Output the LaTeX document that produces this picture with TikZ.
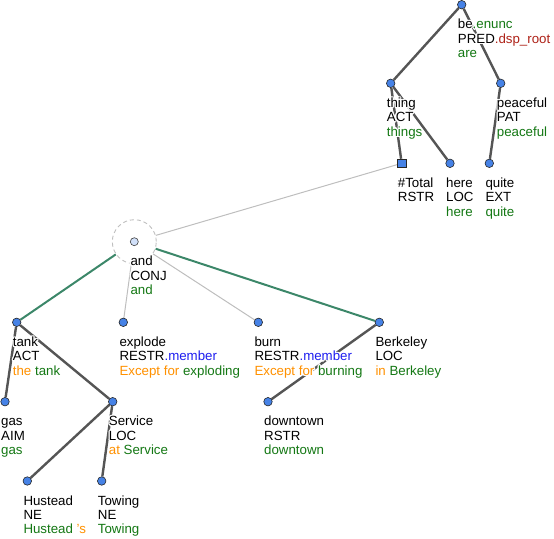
\documentclass[tikz,border=0pt]{standalone}
\usepackage{fontspec}
\setmainfont{Liberation Sans}
\usetikzlibrary{backgrounds}
\definecolor{tgreen}{RGB}{20,120,20}
\definecolor{torange}{RGB}{255,145,0}
\definecolor{tblue}{RGB}{30,30,240}
\definecolor{tred}{RGB}{175,35,25}
\definecolor{nodeblue}{RGB}{70,130,230}
\definecolor{edgegray}{RGB}{85,85,85}
\definecolor{edgegreen}{RGB}{60,135,105}
\definecolor{faintgray}{RGB}{190,190,190}
\newif\ifhalo
\newcommand{\cgreen}[1]{\ifhalo#1\else\textcolor{tgreen}{#1}\fi}
\newcommand{\corange}[1]{\ifhalo#1\else\textcolor{torange}{#1}\fi}
\newcommand{\cblue}[1]{\ifhalo#1\else\textcolor{tblue}{#1}\fi}
\newcommand{\cred}[1]{\ifhalo#1\else\textcolor{tred}{#1}\fi}
\newcommand{\mklabel}[3]{%
  \foreach \hx/\hy in {1.3/0,-1.3/0,0/1.3,0/-1.3,0.9/0.9,-0.9/0.9,0.9/-0.9,-0.9/-0.9}{%
    \node[lbl,text=white,shift={(\hx,\hy)}] at (#2) {\halotrue\begin{tabular}[t]{@{}l@{}}#3\end{tabular}};}
  \node[lbl] (#1) at (#2) {\begin{tabular}[t]{@{}l@{}}#3\end{tabular}};}
\tikzset{
  dot/.style={circle, fill=nodeblue, draw=black!85, line width=0.6pt, inner sep=0pt, minimum size=8.5pt},
  sqnode/.style={rectangle, fill=nodeblue, draw=black!85, line width=0.6pt, inner sep=0pt, minimum size=8.5pt},
  anddot/.style={circle, fill=nodeblue!25, draw=black!75, line width=0.6pt, inner sep=0pt, minimum size=8pt},
  ring/.style={circle, draw=black!25, dashed, dash pattern=on 4pt off 3pt, line width=0.9pt, inner sep=0pt, minimum size=44pt},
  lbl/.style={anchor=base west, inner sep=0pt, font=\fontsize{13.3}{14.4}\selectfont},
  treeedge/.style={draw=edgegray, line width=2.4pt},
  coordedge/.style={draw=edgegreen, line width=2pt},
  faintedge/.style={draw=faintgray, line width=1pt},
}
\begin{document}
\begin{tikzpicture}[x=1pt,y=-1pt]
\useasboundingbox (0,0) rectangle (554,538);
% nodes
\node[dot] (be) at (461.7,4.7) {};
\node[dot] (thing) at (390.7,83.3) {};
\node[dot] (peaceful) at (500.7,83.3) {};
\node[sqnode] (total) at (401.7,163.3) {};
\node[dot] (here) at (450,163.3) {};
\node[dot] (quite) at (489.3,163.3) {};
\node[ring] (andring) at (134.3,241.7) {};
\node[anddot] (and) at (134.3,241.7) {};
\node[dot] (tank) at (16.7,322.3) {};
\node[dot] (explode) at (123.3,322.3) {};
\node[dot] (burn) at (258.3,322.3) {};
\node[dot] (berkeley) at (379.3,322.3) {};
\node[dot] (gas) at (5,401.7) {};
\node[dot] (service) at (112.7,401.7) {};
\node[dot] (downtown) at (268,401.7) {};
\node[dot] (hustead) at (27.3,481) {};
\node[dot] (towing) at (101.7,481) {};
% edges
\begin{pgfonlayer}{background}
\draw[treeedge] (be) -- (thing);
\draw[treeedge] (be) -- (peaceful);
\draw[treeedge] (thing) -- (total);
\draw[treeedge] (thing) -- (here);
\draw[treeedge] (peaceful) -- (quite);
\draw[faintedge] (andring) -- (total);
\draw[faintedge] (andring) -- (explode);
\draw[faintedge] (andring) -- (burn);
\draw[coordedge] (andring) -- (tank);
\draw[coordedge] (andring) -- (berkeley);
\draw[treeedge] (tank) -- (gas);
\draw[treeedge] (tank) -- (service);
\draw[treeedge] (service) -- (hustead);
\draw[treeedge] (service) -- (towing);
\draw[treeedge] (berkeley) -- (downtown);
\end{pgfonlayer}
% labels
\mklabel{lbe}{457.7,28.7}{be\cgreen{.enunc}\\PRED\cred{.dsp\_root}\\\cgreen{are}}
\mklabel{lthing}{386.7,107.3}{thing\\ACT\\\cgreen{things}}
\mklabel{lpeaceful}{496.7,107.3}{peaceful\\PAT\\\cgreen{peaceful}}
\mklabel{ltotal}{397.7,187.3}{\#Total\\RSTR}
\mklabel{lhere}{446,187.3}{here\\LOC\\\cgreen{here}}
\mklabel{lquite}{485.3,187.3}{quite\\EXT\\\cgreen{quite}}
\mklabel{land}{130.3,265.7}{and\\CONJ\\\cgreen{and}}
\mklabel{ltank}{12.7,346.3}{tank\\ACT\\\corange{the} \cgreen{tank}}
\mklabel{lexplode}{119.3,346.3}{explode\\RESTR\cblue{.member}\\\corange{Except for} \cgreen{exploding}}
\mklabel{lburn}{254.3,346.3}{burn\\RESTR\cblue{.member}\\\corange{Except for} \cgreen{burning}}
\mklabel{lberkeley}{375.3,346.3}{Berkeley\\LOC\\\corange{in} \cgreen{Berkeley}}
\mklabel{lgas}{1,425.7}{gas\\AIM\\\cgreen{gas}}
\mklabel{lservice}{108.7,425.7}{Service\\LOC\\\corange{at} \cgreen{Service}}
\mklabel{ldowntown}{264,425.7}{downtown\\RSTR\\\cgreen{downtown}}
\mklabel{lhustead}{23.3,505}{Hustead\\NE\\\cgreen{Hustead} \corange{'s}}
\mklabel{ltowing}{97.7,505}{Towing\\NE\\\cgreen{Towing}}
\end{tikzpicture}
\end{document}
